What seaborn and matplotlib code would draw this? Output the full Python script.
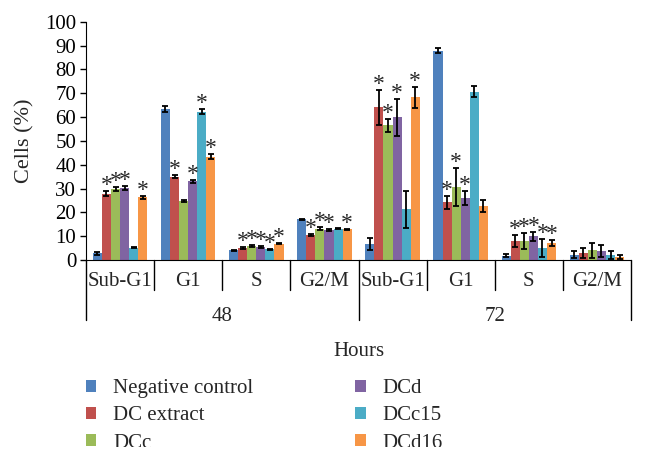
import numpy as np
import pandas as pd
import matplotlib

matplotlib.use("Agg")
import matplotlib.pyplot as plt
from matplotlib.patches import Rectangle
import seaborn as sns

HOURS = ["48", "72"]
PHASES = ["Sub-G1", "G1", "S", "G2/M"]
TREATMENTS = ["Negative control", "DC extract", "DCc", "DCd", "DCc15", "DCd16"]
COLORS = ["#4F81BD", "#C0504D", "#9BBB59", "#8064A2", "#4BACC6", "#F79646"]

# % cells per group, order: 48 h Sub-G1, G1, S, G2/M, then 72 h Sub-G1, G1, S, G2/M
neg_ctrl = [2.8, 63.3, 4.0, 17.1, 6.7, 87.8, 1.8, 2.3]
dc_extract = [27.8, 35.0, 5.1, 10.5, 64.0, 24.3, 7.8, 2.9]
dcc = [29.8, 24.9, 5.8, 13.2, 56.5, 30.5, 8.0, 4.0]
dcd = [30.2, 33.0, 5.4, 12.6, 59.8, 26.0, 9.9, 3.6]
dcc15 = [5.2, 62.2, 4.5, 13.2, 21.2, 70.6, 4.9, 2.1]
dcd16 = [26.3, 43.4, 6.9, 12.9, 68.3, 22.6, 7.2, 1.4]

# error bars (same order)
neg_ctrl_err = [0.5, 1.3, 0.3, 0.3, 2.4, 1.0, 0.6, 1.4]
dc_extract_err = [1.0, 0.7, 0.3, 0.4, 7.3, 2.7, 2.5, 2.2]
dcc_err = [1.0, 0.4, 0.3, 0.5, 2.7, 8.0, 3.4, 3.3]
dcd_err = [1.0, 0.5, 0.3, 0.4, 7.6, 3.0, 2.0, 2.5]
dcc15_err = [0.3, 1.0, 0.3, 0.3, 7.7, 2.4, 3.8, 1.6]
dcd16_err = [0.7, 1.2, 0.3, 0.3, 4.4, 2.6, 1.3, 0.8]

# significance marks (1 = asterisk)
neg_ctrl_sig = [0, 0, 0, 0, 0, 0, 0, 0]
dc_extract_sig = [1, 1, 1, 1, 1, 1, 1, 0]
dcc_sig = [1, 0, 1, 1, 1, 1, 1, 0]
dcd_sig = [1, 1, 1, 1, 1, 1, 1, 0]
dcc15_sig = [0, 1, 1, 0, 0, 0, 1, 0]
dcd16_sig = [1, 1, 1, 1, 1, 0, 1, 0]

means = [neg_ctrl, dc_extract, dcc, dcd, dcc15, dcd16]
errs = [neg_ctrl_err, dc_extract_err, dcc_err, dcd_err, dcc15_err, dcd16_err]
sigs = [neg_ctrl_sig, dc_extract_sig, dcc_sig, dcd_sig, dcc15_sig, dcd16_sig]

groups = [f"{h} {p}" for h in HOURS for p in PHASES]
rows = []
for t, vals in zip(TREATMENTS, means):
    for g, v in zip(groups, vals):
        rows.append({"group": g, "treatment": t, "cells": v})
df = pd.DataFrame(rows)

sns.set_style("ticks")
plt.rcParams["font.family"] = ["Liberation Serif", "DejaVu Serif"]
plt.rcParams["font.size"] = 15

W, H = 646, 461
fig = plt.figure(figsize=(W / 100, H / 100), dpi=100)
ax_left, ax_right, ax_top, ax_bot = 86, 631, 21.7, 260
ax = fig.add_axes([ax_left / W, 1 - ax_bot / H,
                   (ax_right - ax_left) / W, (ax_bot - ax_top) / H])
ax_h = ax_bot - ax_top

sns.barplot(data=df, x="group", y="cells", hue="treatment", order=groups,
            hue_order=TREATMENTS, palette=COLORS, errorbar=None,
            width=0.8, saturation=1, linewidth=0, ax=ax)

# error bars and asterisks on top of the seaborn bars
for cont, e_vals, s_vals in zip(ax.containers, errs, sigs):
    xs = [b.get_x() + b.get_width() / 2 for b in cont]
    hs = [b.get_height() for b in cont]
    ax.errorbar(xs, hs, yerr=e_vals, fmt="none", ecolor="black",
                elinewidth=1.3, capsize=2.2, capthick=1.3, zorder=3)
    for x, h, e, s in zip(xs, hs, e_vals, s_vals):
        if s:
            ax.annotate("*", (x, h + e), xytext=(0, 0), textcoords="offset points",
                        ha="center", va="baseline", fontsize=17)

ax.set_ylim(0, 100)
ax.set_yticks(np.arange(0, 101, 10))
ax.set_xlim(-0.5, len(groups) - 0.5)
ax.set_xticks(range(len(groups)))
ax.set_xticklabels(PHASES * len(HOURS), fontsize=15)
ax.tick_params(axis="x", length=0, pad=9)
ax.tick_params(axis="y", length=4, width=1, pad=3, labelsize=15, colors="black")
for side in ["top", "right"]:
    ax.spines[side].set_visible(False)
ax.spines["left"].set_color("black")
ax.spines["bottom"].set_color("black")

# category separators below the axis
trans = ax.get_xaxis_transform()
for i, b in enumerate(np.arange(-0.5, len(groups))):
    depth = 60 if i % len(PHASES) == 0 else 30
    ax.plot([b, b], [0, -depth / ax_h], transform=trans, color="black",
            lw=1, clip_on=False)
for k, h in enumerate(HOURS):
    ax.text(k * len(PHASES) + (len(PHASES) - 1) / 2, -56 / ax_h, h,
            transform=trans, ha="center", va="center", fontsize=15)

ax.set_xlabel("Hours", fontsize=15)
ax.xaxis.label.set_verticalalignment("center")
ax.xaxis.set_label_coords(0.5, -(351 - ax_bot) / ax_h)
ax.set_ylabel("Cells (%)", fontsize=16)
ax.yaxis.label.set_verticalalignment("center")
ax.yaxis.set_label_coords((25 - ax_left) / (ax_right - ax_left), 0.5)

handles, labels = ax.get_legend_handles_labels()
ax.get_legend().remove()
fig.legend(handles, labels, ncol=2, loc="upper left",
           bbox_to_anchor=(86 / W, 1 - 379 / H), frameon=False, fontsize=15,
           handlelength=0.5, handleheight=0.5, handletextpad=0.8,
           columnspacing=4.9, labelspacing=0.4, borderpad=0, borderaxespad=0)

# the source picture is cut off just below the last legend row
fig.add_artist(Rectangle((0, 0), 1, (H - 447) / H, transform=fig.transFigure,
                         facecolor="white", edgecolor="none", zorder=10))

fig.savefig("out.png", dpi=100)
